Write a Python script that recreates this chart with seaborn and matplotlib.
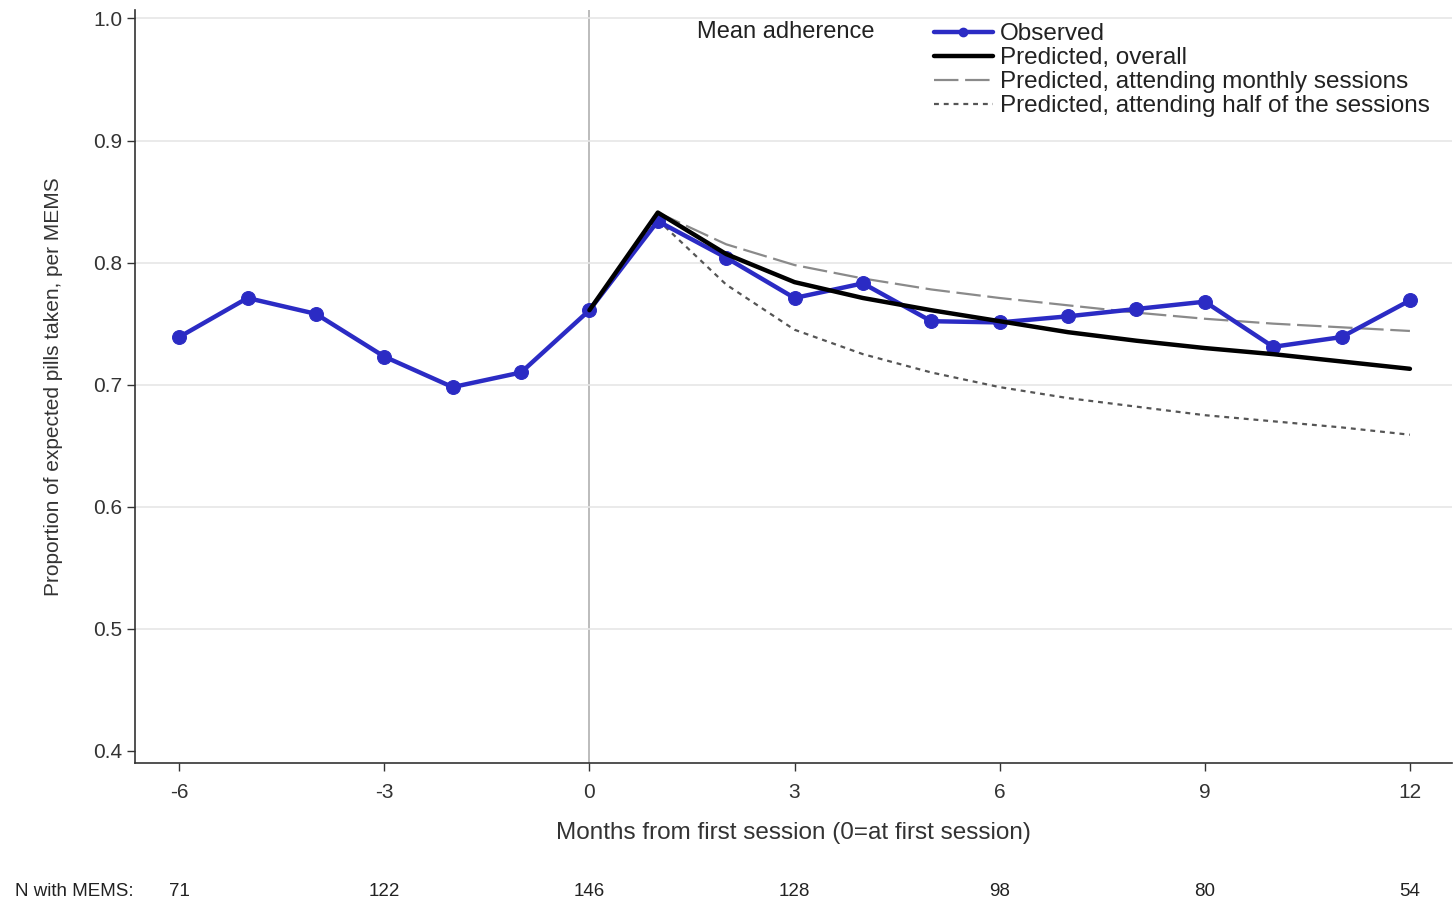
import numpy as np
import pandas as pd
import seaborn as sns
import matplotlib.pyplot as plt
from matplotlib.lines import Line2D
import matplotlib.transforms as mtransforms

sns.set_theme(style="white")
plt.rcParams['font.family'] = ['Liberation Sans', 'DejaVu Sans']

# observed mean adherence by month
months_obs = list(range(-6, 13))
observed = [0.739, 0.771, 0.758, 0.723, 0.698, 0.710, 0.761, 0.834, 0.804, 0.771,
            0.783, 0.752, 0.751, 0.756, 0.762, 0.768, 0.731, 0.739, 0.769]

# predicted curves (month 0 to 12)
months_pred = list(range(0, 13))
pred_overall = [0.761, 0.841, 0.807, 0.784, 0.771, 0.761, 0.752, 0.743, 0.736,
                0.730, 0.725, 0.719, 0.713]
months_sess = list(range(1, 13))
pred_monthly = [0.841, 0.815, 0.798, 0.787, 0.778, 0.771, 0.765, 0.759, 0.754,
                0.750, 0.747, 0.744]
pred_half = [0.835, 0.782, 0.745, 0.725, 0.710, 0.698, 0.689, 0.682, 0.675,
             0.670, 0.665, 0.659]

# number with MEMS
n_months = [-6, -3, 0, 3, 6, 9, 12]
n_mems = [71, 122, 146, 128, 98, 80, 54]

df_obs = pd.DataFrame({'month': months_obs, 'value': observed})
df_overall = pd.DataFrame({'month': months_pred, 'value': pred_overall})
df_monthly = pd.DataFrame({'month': months_sess, 'value': pred_monthly})
df_half = pd.DataFrame({'month': months_sess, 'value': pred_half})

blue = '#2b2bc4'
fig = plt.figure(figsize=(14.56, 9.02), dpi=100)
ax = fig.add_axes([0.093, 0.154, 0.904, 0.835])

ax.axvline(0, color='#b0b0b0', lw=1.2, zorder=0)
for yv in np.arange(0.5, 1.01, 0.1):
    ax.axhline(yv, color='#e6e6e6', lw=1.2, zorder=0)

sns.lineplot(data=df_half, x='month', y='value', ax=ax, color='#555555', lw=1.6,
             linestyle=(0, (2.2, 2.2)), zorder=2)
sns.lineplot(data=df_monthly, x='month', y='value', ax=ax, color='#8a8a8a', lw=1.6,
             linestyle=(0, (11, 3)), zorder=2)
sns.lineplot(data=df_obs, x='month', y='value', ax=ax, color=blue, lw=3.2,
             marker='o', markersize=10, markeredgecolor=blue, zorder=3)
sns.lineplot(data=df_overall, x='month', y='value', ax=ax, color='black', lw=3.2,
             zorder=4)

ax.set_xlim(-6.64, 12.61)
ax.set_ylim(0.390, 1.007)
ax.set_xticks([-6, -3, 0, 3, 6, 9, 12])
ax.set_xticklabels(['-6', '-3', '0', '3', '6', '9', '12'])
ax.set_yticks([0.4, 0.5, 0.6, 0.7, 0.8, 0.9, 1.0])
ax.set_yticklabels(['0.4', '0.5', '0.6', '0.7', '0.8', '0.9', '1.0'])
ax.tick_params(axis='both', labelsize=15, colors='#333333', length=6, width=1,
               direction='out', bottom=True, left=True)
ax.tick_params(axis='x', pad=8)
for s in ['top', 'right']:
    ax.spines[s].set_visible(False)
for s in ['left', 'bottom']:
    ax.spines[s].set_color('#333333')
    ax.spines[s].set_linewidth(1.2)

ax.set_xlabel('Months from first session (0=at first session)', fontsize=17.5,
              color='#333333', labelpad=15)
ax.set_ylabel('Proportion of expected pills taken, per MEMS', fontsize=15,
              color='#333333', labelpad=22)

# N with MEMS row
trans = mtransforms.blended_transform_factory(ax.transData, fig.transFigure)
ny = 1 - 891 / 902
fig.text(0.01, ny, 'N with MEMS:', fontsize=13.5, color='#222222', ha='left', va='center')
for m, n in zip(n_months, n_mems):
    ax.text(m, ny, str(n), transform=trans, fontsize=13.5, color='#222222',
            ha='center', va='center')

# legend
fig.text(0.479, 0.964, 'Mean adherence', fontsize=17, color='#222222', ha='left', va='center')
handles = [
    Line2D([], [], color=blue, lw=3.2, marker='o', markersize=6),
    Line2D([], [], color='black', lw=3.2),
    Line2D([], [], color='#8a8a8a', lw=1.6, linestyle=(0, (11, 3))),
    Line2D([], [], color='#555555', lw=1.6, linestyle=(0, (2.2, 2.2))),
]
labels = ['Observed', 'Predicted, overall', 'Predicted, attending monthly sessions',
          'Predicted, attending half of the sessions']
leg = fig.legend(handles, labels, loc='upper left', bbox_to_anchor=(0.630, 0.993),
                 frameon=False, fontsize=17.5, handlelength=2.4, handletextpad=0.3,
                 labelspacing=0.08, borderpad=0.2)
for t in leg.get_texts():
    t.set_color('#222222')

fig.savefig('out.png', dpi=100)
